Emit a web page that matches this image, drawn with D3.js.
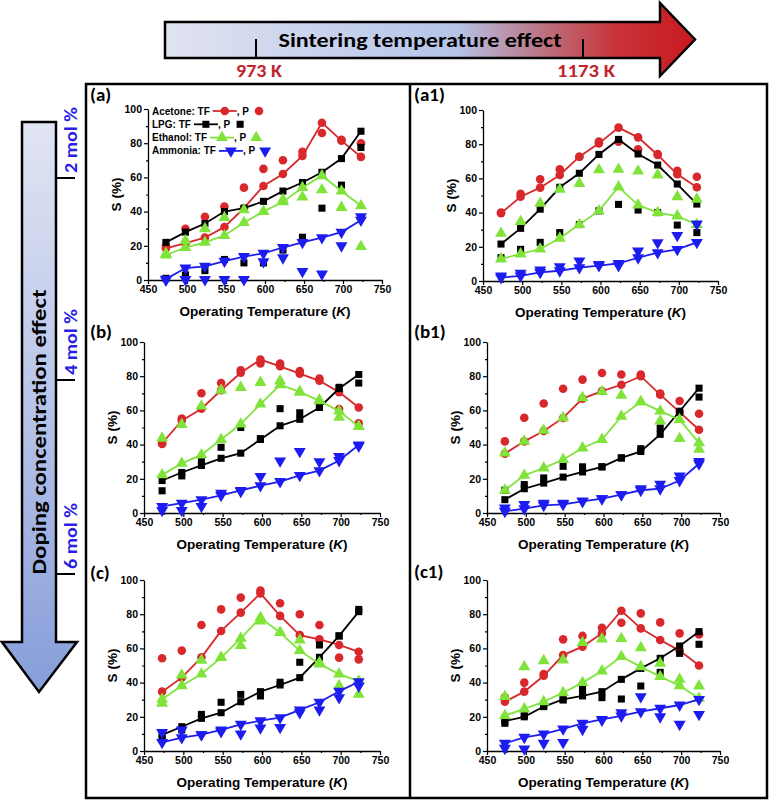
<!DOCTYPE html>
<html>
<head>
<meta charset="utf-8">
<script src="https://cdn.jsdelivr.net/npm/d3@7"></script>
<style>
  body { margin: 0; background: #fff; }
  svg { display: block; }
</style>
</head>
<body>
<div id="chart"></div>
<script>
"use strict"

const width = 770,
  height = 803;

/**
 * DATA
 * */
const temps = [473, 498, 523, 548, 573, 598, 623, 648, 673, 698, 723];
const gases = ["Acetone", "LPG", "Ethanol", "Ammonia"];
const gasColors = ["#d8282b", "#000000", "#7fe33a", "#1c1cf0"];
const xTicks = [450, 500, 550, 600, 650, 700, 750];
const yTicks = [0, 20, 40, 60, 80, 100];
const dopingLabels = ["2 mol %", "4 mol %", "6 mol %"];
const sinterLabels = ["973 K", "1173 K"];

// each panel: [acetone, LPG, ethanol, ammonia]; TF = line + symbols, P = symbols only
const aTF = [
  [18.5, 21.5, 24.8, 31, 42, 55, 62, 72.6, 92, 81.5, 72],
  [22, 28, 33, 40, 42, 46, 52, 57, 63, 71, 87],
  [14.6, 19, 22, 26, 33.6, 40, 45.7, 54, 61, 52, 43.4],
  [0.5, 7, 8, 11, 13.7, 15.6, 19, 22, 24.8, 28, 35]
];
const aP = [
  [20, 30, 37, 43, 54, 65, 70, 75, 86, 82, 80],
  [1, 3, 5.5, 12, 10, 10, 17.5, 25, 42, 55.5, 77.5],
  [15.5, 23, 30, 36.5, 41, 40, 47, 48.5, 52.7, 42.4, 19.5],
  [0, 0.3, 0.3, 0.3, 0.3, 10.7, 13, 5, 3.5, 20, 37]
];
const a1TF = [
  [39.6, 49.3, 54.6, 62, 72.7, 80.5, 89.7, 84, 73.7, 62.4, 54.8],
  [21.6, 30.8, 42, 54.8, 63, 74, 82.8, 74.3, 67.8, 56.7, 45],
  [12.9, 15.8, 18.7, 25, 33, 41, 55, 44.4, 40, 38, 33],
  [2, 3, 5, 6, 7.8, 9, 10.3, 13.6, 16.6, 18.5, 22.6]
];
const a1P = [
  [40, 51, 59.5, 65.3, 72.7, 81.5, 81.5, 77, 74.3, 64.5, 61],
  [13.6, 18.5, 22.6, 28.3, 33, 41, 44.8, 41.5, 40, 32.7, 28.3],
  [27.9, 34.7, 45.4, 53.6, 57, 65, 65.3, 64.3, 62, 49.3, 47.8],
  [3, 4.5, 6.4, 8.4, 11.7, 9.7, 9, 17.5, 22.4, 26.7, 33.3]
];
const bTF = [
  [40.8, 54, 61, 71.8, 82, 89.7, 85.8, 81.5, 77.3, 70.7, 61.7],
  [19, 23.7, 27.8, 32, 35, 43, 51, 54.8, 61.7, 72.8, 81],
  [22.3, 29, 34, 43, 52, 63.7, 75, 70.8, 65.6, 59.6, 50.5],
  [3.9, 5.8, 7.8, 10.3, 13.2, 16, 18.4, 22, 24.8, 30.7, 39.8]
];
const bP = [
  [40.4, 55.3, 70, 76, 83.5, 87.4, 87.4, 83, 78.6, 60.8, 52.4],
  [13, 21.7, 30, 38.4, 50, 43.5, 61, 58.6, 62.5, 73.5, 76],
  [43.7, 51.8, 62.5, 71.8, 73.4, 76.3, 77.3, 70.8, 66, 56, 50.5],
  [1.5, 1.5, 3.9, 11.6, 12.6, 21.4, 30.5, 36, 30, 33, 39.2]
];
const b1TF = [
  [34.7, 41.9, 48, 55.6, 66.9, 71.3, 75, 80, 69.2, 59, 48.7],
  [7.8, 14.2, 17.5, 21, 24, 27, 32.2, 36, 46, 59.5, 73],
  [13.3, 22, 26.3, 31.2, 38, 43, 56.5, 65, 59.6, 54.6, 41],
  [1, 2.5, 4.5, 5, 6.8, 8.4, 10.7, 13.3, 14.2, 19, 28.8]
];
const b1P = [
  [41.9, 55.7, 64, 72.7, 78, 81.9, 81, 81, 69.8, 65.5, 58],
  [13.3, 16.6, 20.5, 27.3, 27, 27, 32.2, 37.6, 49.7, 59, 67.8],
  [35, 42, 48.3, 55.7, 67.4, 71, 68.8, 65, 53.8, 43.5, 37.2],
  [2.9, 5, 5.8, 5.8, 7, 8.4, 10.7, 14.2, 16.8, 21.6, 30.2]
];
const cTF = [
  [34.7, 42.9, 54.8, 70.2, 80.9, 92.2, 79, 67.8, 65.3, 62, 58],
  [9.4, 14.2, 19.1, 22.4, 28.8, 34.7, 38.6, 42.9, 54.8, 67.3, 81.5],
  [30.2, 38.2, 45, 54.6, 65.9, 78, 69.2, 58.7, 50.9, 45, 40.9],
  [5, 7.8, 9.6, 12.3, 15.6, 17.7, 19.5, 24, 28.5, 34.9, 40.5]
];
const cP = [
  [54.2, 58.7, 73.7, 82.8, 89.7, 93.8, 86.4, 80, 73.7, 54.6, 53.6],
  [7.4, 12.3, 21.4, 28.5, 33.1, 32.2, 40.2, 51.9, 62, 67.3, 82.8],
  [27.9, 44.4, 53, 54.6, 61.6, 76, 69.2, 64.9, 51.7, 38.2, 33.1],
  [10.9, 12.3, 9.6, 11.3, 10, 13.5, 13.8, 22.4, 24, 31.2, 38]
];
const c1TF = [
  [28.8, 34.7, 44, 56.1, 61, 68.8, 82, 71.7, 64.9, 58.7, 50],
  [17.5, 20, 26, 30.2, 32.2, 34.7, 41.9, 48.3, 54.2, 61.4, 69.8],
  [20.7, 24.6, 28.8, 34.1, 40, 46.8, 55.2, 49.3, 43.5, 38.2, 30.8],
  [4.5, 8, 9.9, 12.9, 16.2, 18.5, 20.5, 23, 25, 26.9, 30.2]
];
const c1P = [
  [31.4, 40, 45, 65.3, 67.3, 72.1, 75, 80.5, 75.2, 68.8, 68.2],
  [16.2, 21, 26, 29.8, 36, 31.2, 30.4, 38, 46, 57.1, 62.4],
  [31.8, 49.3, 52.8, 53.2, 63.4, 65.5, 65.7, 60.4, 51.3, 41.9, 38],
  [1.6, 1.2, 4.5, 5, 12.7, 18.1, 22.4, 31.8, 20, 15.6, 21.4]
];

/**
 * LAYOUT
 * */
const panels = [
  { name: "(a)",  tf: aTF,  p: aP,  left: 148, right: 382, top: 109, bottom: 280, lx: 90,  ly: 101, legend: true },
  { name: "(a1)", tf: a1TF, p: a1P, left: 483, right: 718, top: 110, bottom: 281, lx: 414, ly: 101 },
  { name: "(b)",  tf: bTF,  p: bP,  left: 144, right: 380, top: 342, bottom: 513, lx: 90,  ly: 338 },
  { name: "(b1)", tf: b1TF, p: b1P, left: 487, right: 720, top: 342, bottom: 513, lx: 414, ly: 338 },
  { name: "(c)",  tf: cTF,  p: cP,  left: 144, right: 380, top: 580, bottom: 751, lx: 90,  ly: 579 },
  { name: "(c1)", tf: c1TF, p: c1P, left: 487, right: 720, top: 580, bottom: 751, lx: 414, ly: 578 }
];

const arialFont = "'Liberation Sans', Arial, sans-serif";
const narrowFont = "Carlito, 'Liberation Sans Narrow', 'DejaVu Sans Condensed', sans-serif";

const symbolTypes = [d3.symbolCircle, d3.symbolSquare, d3.symbolTriangle, d3.symbolTriangle];
const symbolSizes = [58, 50, 62, 62];
const symbolRot = [0, 0, 0, 180];

const svg = d3.select("#chart")
  .append("svg")
  .attr("width", width)
  .attr("height", height);

const defs = svg.append("defs");

// horizontal gradient: sintering temperature
const gH = defs.append("linearGradient").attr("id", "gradH")
  .attr("x1", "0%").attr("x2", "100%").attr("y1", "0%").attr("y2", "0%");
gH.append("stop").attr("offset", "0%").attr("stop-color", "#e0e3f1");
gH.append("stop").attr("offset", "55%").attr("stop-color", "#b5c4ea");
gH.append("stop").attr("offset", "72%").attr("stop-color", "#bd6f7d");
gH.append("stop").attr("offset", "85%").attr("stop-color", "#c8343a");
gH.append("stop").attr("offset", "100%").attr("stop-color", "#c9191f");

// vertical gradient: doping concentration
const gV = defs.append("linearGradient").attr("id", "gradV")
  .attr("x1", "0%").attr("x2", "0%").attr("y1", "0%").attr("y2", "100%");
gV.append("stop").attr("offset", "0%").attr("stop-color", "#e1e4f2");
gV.append("stop").attr("offset", "45%").attr("stop-color", "#bcc8ea");
gV.append("stop").attr("offset", "100%").attr("stop-color", "#869dd9");

/**
 * TOP ARROW
 * */
const topArrow = d3.path();
topArrow.moveTo(165, 22);
topArrow.lineTo(660, 22);
topArrow.lineTo(660, 3);
topArrow.lineTo(695, 39.5);
topArrow.lineTo(660, 76);
topArrow.lineTo(660, 58);
topArrow.lineTo(165, 58);
topArrow.closePath();
svg.append("path")
  .attr("d", topArrow.toString())
  .attr("fill", "url(#gradH)")
  .attr("stroke", "#000")
  .attr("stroke-width", 2.5)
  .attr("stroke-linejoin", "miter");

svg.append("text")
  .attr("x", 420).attr("y", 47)
  .attr("text-anchor", "middle")
  .attr("textLength", 283)
  .attr("lengthAdjust", "spacingAndGlyphs")
  .style("font-family", narrowFont)
  .style("font-weight", "bold")
  .style("font-size", "20px")
  .text("Sintering temperature effect");

const sinterX = [256, 583];
sinterX.forEach((x, i) => {
  svg.append("line")
    .attr("x1", x).attr("x2", x).attr("y1", 39).attr("y2", 57)
    .attr("stroke", "#000").attr("stroke-width", 2);
  svg.append("text")
    .attr("x", x + 3).attr("y", 77)
    .attr("text-anchor", "middle")
    .attr("textLength", i === 0 ? 46 : 58)
    .attr("lengthAdjust", "spacingAndGlyphs")
    .style("font-family", narrowFont)
    .style("font-weight", "bold")
    .style("font-size", "17px")
    .attr("fill", "#c0252c")
    .text(sinterLabels[i]);
});

/**
 * LEFT ARROW
 * */
const leftArrow = d3.path();
leftArrow.moveTo(22, 122);
leftArrow.lineTo(56, 122);
leftArrow.lineTo(56, 642);
leftArrow.lineTo(77, 642);
leftArrow.lineTo(39, 692);
leftArrow.lineTo(2, 642);
leftArrow.lineTo(22, 642);
leftArrow.closePath();
svg.append("path")
  .attr("d", leftArrow.toString())
  .attr("fill", "url(#gradV)")
  .attr("stroke", "#000")
  .attr("stroke-width", 2.5);

svg.append("text")
  .attr("transform", "translate(46,432) rotate(-90)")
  .attr("text-anchor", "middle")
  .attr("textLength", 285)
  .attr("lengthAdjust", "spacingAndGlyphs")
  .style("font-family", narrowFont)
  .style("font-weight", "bold")
  .style("font-size", "21px")
  .text("Doping concentration effect");

const dopingY = [178, 380, 574];
dopingY.forEach((y, i) => {
  svg.append("line")
    .attr("x1", 57).attr("x2", 75).attr("y1", y).attr("y2", y)
    .attr("stroke", "#000").attr("stroke-width", 2);
  svg.append("text")
    .attr("transform", `translate(77,${y - 5}) rotate(-90)`)
    .attr("text-anchor", "start")
    .attr("textLength", 66)
    .attr("lengthAdjust", "spacingAndGlyphs")
    .style("font-family", narrowFont)
    .style("font-weight", "bold")
    .style("font-size", "19px")
    .attr("fill", "#2a1fe3")
    .text(dopingLabels[i]);
});

/**
 * FRAME
 * */
svg.append("rect")
  .attr("x", 86).attr("y", 84)
  .attr("width", 681).attr("height", 714)
  .attr("fill", "none")
  .attr("stroke", "#000")
  .attr("stroke-width", 2.5);
svg.append("line")
  .attr("x1", 410).attr("x2", 410).attr("y1", 84).attr("y2", 798)
  .attr("stroke", "#000").attr("stroke-width", 2.5);

/**
 * PANELS
 * */
function symbolPath(i) {
  return d3.symbol().type(symbolTypes[i]).size(symbolSizes[i])();
}

panels.forEach(p => drawPanel(p));

function drawPanel(p) {
  const x = d3.scaleLinear().domain([450, 750]).range([p.left, p.right]);
  const y = d3.scaleLinear().domain([0, 100]).range([p.bottom, p.top]);
  const g = svg.append("g");

  // axes
  const xAxis = g.append("g")
    .attr("transform", `translate(0,${p.bottom})`)
    .call(d3.axisBottom(x).tickValues(xTicks).tickSize(4).tickSizeOuter(0).tickPadding(2));
  g.append("g")
    .attr("transform", `translate(0,${p.bottom})`)
    .call(d3.axisBottom(x).tickValues(d3.range(475, 750, 50)).tickSize(2).tickFormat(""))
    .call(a => a.select(".domain").remove());
  const yAxis = g.append("g")
    .attr("transform", `translate(${p.left},0)`)
    .call(d3.axisLeft(y).tickValues(yTicks).tickSize(4).tickSizeOuter(0).tickPadding(2));
  g.append("g")
    .attr("transform", `translate(${p.left},0)`)
    .call(d3.axisLeft(y).tickValues(d3.range(10, 100, 20)).tickSize(2).tickFormat(""))
    .call(a => a.select(".domain").remove());

  g.selectAll(".domain").attr("stroke-width", 1.3);
  g.selectAll(".tick line").attr("stroke-width", 1.2);
  g.selectAll(".tick text")
    .style("font-family", arialFont)
    .style("font-weight", "bold")
    .style("font-size", "10.5px")
    .attr("fill", "#000");

  // titles
  const xt = g.append("text")
    .attr("x", (p.left + p.right) / 2)
    .attr("y", p.bottom + 36)
    .attr("text-anchor", "middle")
    .style("font-family", arialFont)
    .style("font-weight", "bold")
    .style("font-size", "13.5px");
  xt.append("tspan").text("Operating Temperature (");
  xt.append("tspan").style("font-style", "italic").text("K");
  xt.append("tspan").text(")");

  g.append("text")
    .attr("transform", `translate(${p.left - 27},${(p.top + p.bottom) / 2}) rotate(-90)`)
    .attr("text-anchor", "middle")
    .style("font-family", arialFont)
    .style("font-weight", "bold")
    .style("font-size", "13.5px")
    .text("S (%)");

  g.append("text")
    .attr("x", p.lx).attr("y", p.ly)
    .style("font-family", narrowFont)
    .style("font-weight", "bold")
    .style("font-size", "19px")
    .text(p.name);

  // series
  const line = d3.line().x((d, i) => x(temps[i])).y(d => y(d));

  gases.forEach((gas, k) => {
    const s = g.append("g");
    s.selectAll(".pt-p")
      .data(p.p[k])
      .join("path")
      .attr("class", "pt-p")
      .attr("d", symbolPath(k))
      .attr("fill", gasColors[k])
      .attr("transform", (d, i) => `translate(${x(temps[i])},${y(d)}) rotate(${symbolRot[k]})`);
    s.append("path")
      .datum(p.tf[k])
      .attr("d", line)
      .attr("fill", "none")
      .attr("stroke", gasColors[k])
      .attr("stroke-width", 1.8);
    s.selectAll(".pt-tf")
      .data(p.tf[k])
      .join("path")
      .attr("class", "pt-tf")
      .attr("d", symbolPath(k))
      .attr("fill", gasColors[k])
      .attr("transform", (d, i) => `translate(${x(temps[i])},${y(d)}) rotate(${symbolRot[k]})`);
  });

  if (p.legend) drawLegend(g, p.left + 4, p.top + 2);
}

function drawLegend(g, lx, ly) {
  gases.forEach((gas, k) => {
    const row = g.append("g").attr("transform", `translate(${lx},${ly + k * 13.3})`);
    const t1 = row.append("text")
      .attr("x", 0).attr("y", 0)
      .attr("dy", "0.35em")
      .style("font-family", arialFont)
      .style("font-weight", "bold")
      .style("font-size", "10px")
      .text(gas + ": TF");
    const w1 = t1.node().getComputedTextLength();
    const x0 = w1 + 3;
    row.append("line")
      .attr("x1", x0).attr("x2", x0 + 24)
      .attr("stroke", gasColors[k]).attr("stroke-width", 1.8);
    row.append("path")
      .attr("d", symbolPath(k))
      .attr("fill", gasColors[k])
      .attr("transform", `translate(${x0 + 12},0) rotate(${symbolRot[k]})`);
    const t2 = row.append("text")
      .attr("x", x0 + 24).attr("y", 0)
      .attr("dy", "0.35em")
      .style("font-family", arialFont)
      .style("font-weight", "bold")
      .style("font-size", "10px")
      .text(", P");
    const w2 = t2.node().getComputedTextLength();
    row.append("path")
      .attr("d", symbolPath(k))
      .attr("fill", gasColors[k])
      .attr("transform", `translate(${x0 + 24 + w2 + 10},0) rotate(${symbolRot[k]})`);
  });
}
</script>
</body>
</html>
